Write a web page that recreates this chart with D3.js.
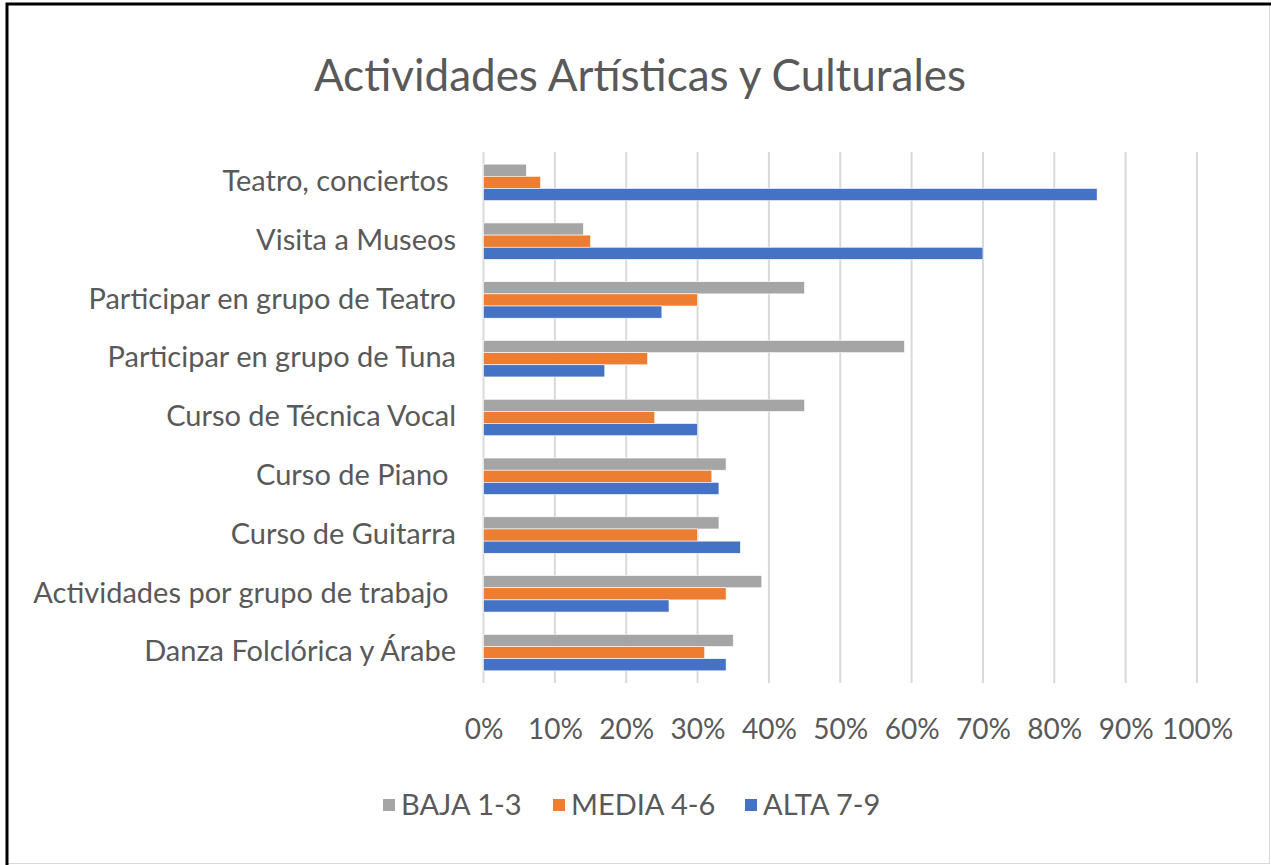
<!DOCTYPE html>
<html>
<head>
<meta charset="utf-8">
<script src="https://cdn.jsdelivr.net/npm/d3@7"></script>
<style>
  body { margin: 0; background: #fff; }
  text { font-family: Lato, "Open Sans", sans-serif; fill: #595959; white-space: pre; }
</style>
</head>
<body>
<div id="viz"></div>
<script>
// chart data
var categories = [
  "Teatro, conciertos ",
  "Visita a Museos",
  "Participar en grupo de Teatro",
  "Participar en grupo de Tuna",
  "Curso de Técnica Vocal",
  "Curso de Piano ",
  "Curso de Guitarra",
  "Actividades por grupo de trabajo ",
  "Danza Folclórica y Árabe"
];
var seriesNames = ["BAJA 1-3", "MEDIA 4-6", "ALTA 7-9"];
var seriesColors = ["#A5A5A5", "#ED7D31", "#4472C4"];
var baja  = [0.06, 0.14, 0.45, 0.59, 0.45, 0.34, 0.33, 0.39, 0.35];
var media = [0.08, 0.15, 0.30, 0.23, 0.24, 0.32, 0.30, 0.34, 0.31];
var alta  = [0.86, 0.70, 0.25, 0.17, 0.30, 0.33, 0.36, 0.26, 0.34];
var ticks = [0, 0.1, 0.2, 0.3, 0.4, 0.5, 0.6, 0.7, 0.8, 0.9, 1];

var width = 1271, height = 865;
var values = [baja, media, alta];

var svg = d3.select("#viz")
  .append("svg")
    .attr("width", width)
    .attr("height", height);

// frame
svg.append("rect")
  .attr("x", 7.5).attr("y", 4.5)
  .attr("width", 1262).attr("height", 859)
  .attr("fill", "white")
  .attr("stroke", "#d9d9d9");
svg.append("path")
  .attr("d", "M7,865V4H1271")
  .attr("fill", "none")
  .attr("stroke", "black")
  .attr("stroke-width", 3);

// title
svg.append("text")
  .attr("x", 640).attr("y", 91)
  .attr("text-anchor", "middle")
  .style("font-size", "44px")
  .text("Actividades Artísticas y Culturales");

var x = d3.scaleLinear().domain([0, 1]).range([483.5, 1197]);
var y = d3.scaleBand().domain(categories).range([153, 682]).paddingInner(0.38).paddingOuter(0.19);
var ySub = d3.scaleBand().domain(d3.range(seriesNames.length)).range([0, y.bandwidth()]);

// gridlines
svg.append("g")
  .selectAll("line")
  .data(ticks)
  .enter()
  .append("line")
    .attr("x1", function (d) { return x(d); })
    .attr("x2", function (d) { return x(d); })
    .attr("y1", 152)
    .attr("y2", 683)
    .attr("stroke", "#d9d9d9")
    .attr("stroke-width", 2);

// x tick labels
var xAxis = svg.append("g")
  .attr("transform", "translate(0,683)")
  .call(d3.axisBottom(x).tickValues(ticks).tickFormat(d3.format(".0%")).tickSize(0).tickPadding(36));
xAxis.select(".domain").remove();
xAxis.selectAll("text")
  .style("font-size", "28px")
  .style("font-family", null)
  .attr("fill", null);

// category labels
var yAxis = svg.append("g")
  .attr("transform", "translate(456,0)")
  .call(d3.axisLeft(y).tickSize(0).tickPadding(0));
yAxis.select(".domain").remove();
yAxis.selectAll("text")
  .style("font-size", "29px")
  .style("font-family", null)
  .attr("fill", null)
  .attr("dy", "0.3em");

// bars
var groups = svg.append("g")
  .selectAll("g")
  .data(categories)
  .enter()
  .append("g")
    .attr("transform", function (d) { return "translate(0," + y(d) + ")"; });

groups.selectAll("rect")
  .data(function (d, i) { return values.map(function (s, k) { return { k: k, v: s[i] }; }); })
  .enter()
  .append("rect")
    .attr("x", x(0))
    .attr("y", function (d) { return ySub(d.k); })
    .attr("width", function (d) { return x(d.v) - x(0); })
    .attr("height", ySub.bandwidth())
    .attr("fill", function (d) { return seriesColors[d.k]; })
    .attr("stroke", "white")
    .attr("stroke-width", 0.6);

// legend
var legendX = [383, 553, 745];
var legend = svg.append("g")
  .selectAll("g")
  .data(seriesNames)
  .enter()
  .append("g")
    .attr("transform", function (d, i) { return "translate(" + legendX[i] + ",805)"; });
legend.append("rect")
  .attr("x", 0).attr("y", -6)
  .attr("width", 12).attr("height", 12)
  .attr("fill", function (d, i) { return seriesColors[i]; });
legend.append("text")
  .attr("x", 18)
  .attr("dy", "0.36em")
  .style("font-size", "29px")
  .text(function (d) { return d; });
</script>
</body>
</html>
